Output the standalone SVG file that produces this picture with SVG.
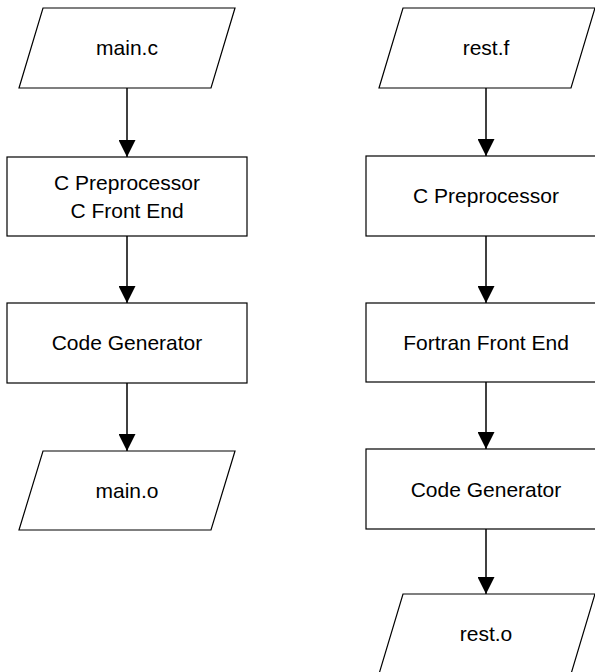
<svg xmlns="http://www.w3.org/2000/svg" width="595" height="672" viewBox="0 0 595 672">
  <style>
    .shape { fill: #ffffff; stroke: #000000; stroke-width: 1.2; }
    .label { font-family: "Liberation Sans", Arial, sans-serif; font-size: 21px; fill: #000000; text-anchor: middle; }
    .flow { stroke: #000000; stroke-width: 1.5; fill: none; marker-end: url(#arrow); }
  </style>
  <defs>
    <marker id="arrow" markerUnits="userSpaceOnUse" markerWidth="20" markerHeight="17" refX="20" refY="10" orient="auto" viewBox="0 0 20 20">
      <path d="M0,0 L20,10 L0,20 Z" fill="#000000"/>
    </marker>
  </defs>

  <rect width="595" height="672" fill="#ffffff"/>

  <!-- connectors -->
  <g id="connectors">
    <path class="flow" d="M127,88 L127,157"/>
    <path class="flow" d="M127,236 L127,303"/>
    <path class="flow" d="M127,383 L127,451"/>
    <path class="flow" d="M486,88 L486,156"/>
    <path class="flow" d="M486,236 L486,303"/>
    <path class="flow" d="M486,382 L486,449"/>
    <path class="flow" d="M486,529 L486,594"/>
  </g>

  <!-- C pipeline -->
  <g id="main-c">
    <polygon class="shape" points="43,8 235,8 211,88 19,88"/>
    <text class="label" x="127" y="55">main.c</text>
  </g>
  <g id="c-front">
    <rect class="shape" x="7" y="157" width="240" height="79"/>
    <text class="label" x="127" y="190">C Preprocessor</text>
    <text class="label" x="127" y="218">C Front End</text>
  </g>
  <g id="c-codegen">
    <rect class="shape" x="7" y="303" width="240" height="80"/>
    <text class="label" x="127" y="350">Code Generator</text>
  </g>
  <g id="main-o">
    <polygon class="shape" points="43,451 235,451 211,530 19,530"/>
    <text class="label" x="127" y="498">main.o</text>
  </g>

  <!-- Fortran pipeline -->
  <g id="rest-f">
    <polygon class="shape" points="403,8 595,8 571,88 379,88"/>
    <text class="label" x="486" y="55">rest.f</text>
  </g>
  <g id="f-preproc">
    <rect class="shape" x="366" y="156" width="240" height="80"/>
    <text class="label" x="486" y="203">C Preprocessor</text>
  </g>
  <g id="f-front">
    <rect class="shape" x="366" y="303" width="240" height="79"/>
    <text class="label" x="486" y="350">Fortran Front End</text>
  </g>
  <g id="f-codegen">
    <rect class="shape" x="366" y="449" width="240" height="80"/>
    <text class="label" x="486" y="497">Code Generator</text>
  </g>
  <g id="rest-o">
    <polygon class="shape" points="403,594 595,594 571,674 379,674"/>
    <text class="label" x="486" y="641">rest.o</text>
  </g>
</svg>
